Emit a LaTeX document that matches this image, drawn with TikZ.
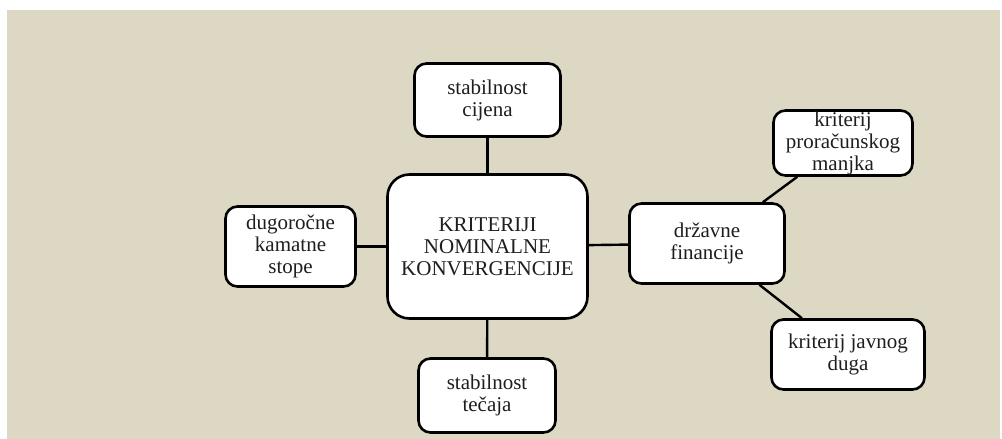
\documentclass[tikz,border=0pt]{standalone}
\usepackage{fontspec}
\setmainfont{Liberation Serif}
\definecolor{bgbeige}{RGB}{221,216,195}
\definecolor{txt}{RGB}{30,30,30}
\begin{document}
\begin{tikzpicture}[x=1pt,y=-1pt,
  box/.style={draw=black, fill=white, line width=2.6pt, rounded corners=12pt,
    inner sep=0pt, align=center, text=txt,
    font=\fontsize{21}{22}\selectfont},
  bigbox/.style={box, rounded corners=22pt},
  link/.style={draw=black, line width=2.4pt}]
\useasboundingbox (0,0) rectangle (1002,439);
\fill[bgbeige] (7,10) rectangle (1000,439);
% connectors (drawn first, boxes cover their ends)
\node[bigbox, minimum width=200pt, minimum height=144pt] (c) at (487.5,246.5) {KRITERIJI\\NOMINALNE\\KONVERGENCIJE};
\node[box, minimum width=146pt, minimum height=73pt] (t) at (487.5,100) {stabilnost\\cijena};
\node[box, minimum width=130pt, minimum height=80pt] (l) at (290.5,246.5) {dugoročne\\kamatne\\stope};
\node[box, minimum width=137pt, minimum height=74pt] (b) at (487,395.5) {stabilnost\\tečaja};
\node[box, minimum width=155pt, minimum height=80pt] (d) at (707,243.5) {državne\\financije};
\node[box, minimum width=139pt, minimum height=65pt] (p) at (843,143) {kriterij\\proračunskog\\manjka};
\node[box, minimum width=153pt, minimum height=70pt] (j) at (848,354.5) {kriterij javnog\\duga};
\draw[link] (c) -- (t);
\draw[link] (c) -- (b);
\draw[link] (c) -- (l);
\draw[link] (c) -- (d);
\draw[link] (d) -- (p);
\draw[link] (d) -- (j);
\end{tikzpicture}
\end{document}
